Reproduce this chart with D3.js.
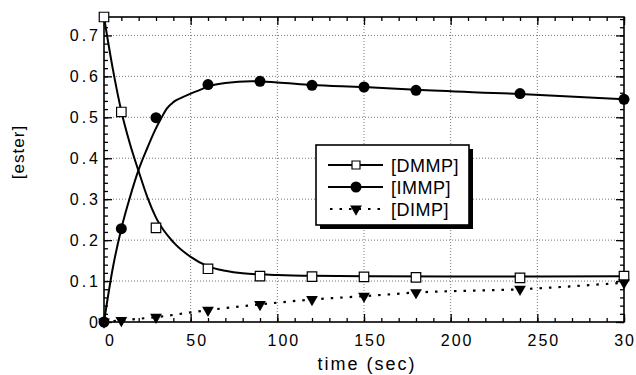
<!DOCTYPE html>
<html>
<head>
<meta charset="utf-8">
<script src="https://cdn.jsdelivr.net/npm/d3@7"></script>
<style>
  body { margin: 0; background: #fff; }
  svg { font-family: "Liberation Sans", Arial, Helvetica, sans-serif; }
</style>
</head>
<body>
<script>
// measured points
var times = [0, 10, 30, 60, 90, 120, 150, 180, 240, 300];
var dmmp = [0.745, 0.513, 0.230, 0.130, 0.112, 0.111, 0.110, 0.109, 0.108, 0.112];
var immp = [0, 0.228, 0.499, 0.580, 0.588, 0.578, 0.574, 0.566, 0.558, 0.544];
var dimp = [0, 0.004, 0.012, 0.029, 0.043, 0.055, 0.063, 0.072, 0.080, 0.096];

// fitted curves
var dmmpFitT = [0, 5, 10, 15, 20, 25, 30, 40, 50, 60, 70, 80, 100, 120, 150, 200, 250, 300];
var dmmpFitV = [0.745, 0.62, 0.515, 0.435, 0.368, 0.305, 0.255, 0.195, 0.159, 0.136, 0.125, 0.119, 0.115, 0.113, 0.112, 0.111, 0.111, 0.112];
var immpFitT = [0, 5, 10, 15, 20, 25, 29.4, 33.3, 36.2, 40, 44.8, 50, 55.4, 60, 70, 85, 100, 120, 150, 180, 240, 300];
var immpFitV = [0, 0.13, 0.228, 0.305, 0.372, 0.425, 0.468, 0.500, 0.521, 0.537, 0.548, 0.558, 0.567, 0.575, 0.584, 0.588, 0.585, 0.579, 0.574, 0.567, 0.557, 0.544];

var xTicks = [0, 50, 100, 150, 200, 250, 300];
var yTicks = [0, 0.1, 0.2, 0.3, 0.4, 0.5, 0.6, 0.7];
var yTickLabels = ["0", "0.1", "0.2", "0.3", "0.4", "0.5", "0.6", "0.7"];
var legendNames = ["[DMMP]", "[IMMP]", "[DIMP]"];

var margin = {top: 17, right: 12, bottom: 53, left: 104},
    width = 636 - margin.left - margin.right,
    height = 375 - margin.top - margin.bottom;

var x = d3.scaleLinear().domain([0, 300]).range([0, width]);
var y = d3.scaleLinear().domain([0, 0.745]).range([height, 0]);

var svg = d3.select("body").append("svg")
    .attr("width", 636)
    .attr("height", 375)
  .append("g")
    .attr("transform", "translate(" + margin.left + "," + margin.top + ")");

// grid
svg.selectAll(".vgrid").data(xTicks.slice(1, -1)).enter().append("line")
  .attr("x1", d => x(d)).attr("x2", d => x(d))
  .attr("y1", 0).attr("y2", height)
  .style("stroke", "#777").style("stroke-width", 1).style("stroke-dasharray", "1,2");
svg.selectAll(".hgrid").data(yTicks.slice(1)).enter().append("line")
  .attr("x1", 0).attr("x2", width)
  .attr("y1", d => y(d)).attr("y2", d => y(d))
  .style("stroke", "#777").style("stroke-width", 1).style("stroke-dasharray", "1,2");

// axes: minor + major ticks on all sides, pointing inward
var xMinor = d3.range(0, 301, 10);
var yMinor = d3.range(0, 0.741, 0.02);

function styleAxis(g) {
  g.select(".domain").remove();
  g.selectAll("line").style("stroke", "#000").style("stroke-width", 1.3);
  g.selectAll("text").style("font-size", "16px").style("fill", "#000").style("letter-spacing", "2px");
}

svg.append("g").attr("transform", "translate(0," + height + ")")
  .call(d3.axisBottom(x).tickValues(xMinor).tickSize(-4).tickFormat(""))
  .call(styleAxis);
svg.append("g").attr("transform", "translate(0," + height + ")")
  .call(d3.axisBottom(x).tickValues(xTicks).tickSize(-8).tickPadding(13).tickFormat(d3.format("d")))
  .call(styleAxis)
  .selectAll("text").attr("dx", 6);
svg.append("g")
  .call(d3.axisTop(x).tickValues(xMinor).tickSize(-4).tickFormat(""))
  .call(styleAxis);
svg.append("g")
  .call(d3.axisTop(x).tickValues(xTicks).tickSize(-8).tickFormat(""))
  .call(styleAxis);

svg.append("g")
  .call(d3.axisLeft(y).tickValues(yMinor).tickSize(-4).tickFormat(""))
  .call(styleAxis);
svg.append("g")
  .call(d3.axisLeft(y).tickValues(yTicks).tickSize(-8).tickPadding(3)
    .tickFormat((d, i) => yTickLabels[i]))
  .call(styleAxis)
  .selectAll("text").style("letter-spacing", "3px");
svg.append("g").attr("transform", "translate(" + width + ",0)")
  .call(d3.axisRight(y).tickValues(yMinor).tickSize(-4).tickFormat(""))
  .call(styleAxis);
svg.append("g").attr("transform", "translate(" + width + ",0)")
  .call(d3.axisRight(y).tickValues(yTicks).tickSize(-8).tickFormat(""))
  .call(styleAxis);

// frame
svg.append("rect")
  .attr("width", width).attr("height", height)
  .style("fill", "none").style("stroke", "#000").style("stroke-width", 1.6);

// curves
var fitLine = d3.line()
  .x(d => x(d[0]))
  .y(d => y(d[1]))
  .curve(d3.curveMonotoneX);

svg.append("path")
  .attr("d", fitLine(dmmpFitT.map((t, i) => [t, dmmpFitV[i]])))
  .style("fill", "none").style("stroke", "#000").style("stroke-width", 2);
svg.append("path")
  .attr("d", fitLine(immpFitT.map((t, i) => [t, immpFitV[i]])))
  .style("fill", "none").style("stroke", "#000").style("stroke-width", 2);
svg.append("path")
  .attr("d", fitLine(times.map((t, i) => [t, dimp[i]])))
  .style("fill", "none").style("stroke", "#000").style("stroke-width", 2.2)
  .style("stroke-dasharray", "2.5,7");

// markers
var sq = d3.symbol().type(d3.symbolSquare).size(90);
var circ = d3.symbol().type(d3.symbolCircle).size(95);
var tri = d3.symbol().type(d3.symbolTriangle).size(60);

svg.selectAll(".dmmp").data(times).enter().append("path")
  .attr("d", sq)
  .attr("transform", (d, i) => "translate(" + x(d) + "," + y(dmmp[i]) + ")")
  .style("fill", "#fff").style("stroke", "#000").style("stroke-width", 1.2);
svg.selectAll(".immp").data(times).enter().append("path")
  .attr("d", circ)
  .attr("transform", (d, i) => "translate(" + x(d) + "," + y(immp[i]) + ")")
  .style("fill", "#000");
svg.selectAll(".dimp").data(times).enter().append("path")
  .attr("d", tri)
  .attr("transform", (d, i) => "translate(" + x(d) + "," + y(dimp[i]) + ") rotate(180)")
  .style("fill", "#000");

// axis titles
svg.append("text")
  .attr("text-anchor", "middle")
  .attr("transform", "translate(" + (-80) + "," + 135 + ")rotate(-90)")
  .style("font-size", "17px")
  .style("letter-spacing", "1px")
  .text("[ester]");
svg.append("text")
  .attr("x", x(150) + 3)
  .attr("y", height + 48)
  .attr("text-anchor", "middle")
  .style("font-size", "18px")
  .style("letter-spacing", "2px")
  .text("time (sec)");

// legend
var lg = svg.append("g").attr("transform", "translate(" + (316 - margin.left) + "," + (145 - margin.top) + ")");
var lw = 153, lh = 80;
lg.append("rect").attr("x", 4).attr("y", 4).attr("width", lw).attr("height", lh).style("fill", "#000");
lg.append("rect").attr("width", lw).attr("height", lh)
  .style("fill", "#fff").style("stroke", "#000").style("stroke-width", 1.6);

var rowY = [20, 42, 64];
var legendMarks = [sq, circ, tri];
legendNames.forEach(function(name, i) {
  var row = lg.append("g").attr("transform", "translate(0," + rowY[i] + ")");
  var ln = row.append("line").attr("x1", 12).attr("x2", 67).attr("y1", 0).attr("y2", 0)
    .style("stroke", "#000").style("stroke-width", i === 2 ? 2.2 : 2);
  if (i === 2) ln.style("stroke-dasharray", "2.5,7").attr("x1", 14);
  var m = row.append("path")
    .attr("d", i === 0 ? d3.symbol().type(d3.symbolSquare).size(64) : legendMarks[i])
    .attr("transform", "translate(40,0)" + (i === 2 ? " rotate(180)" : ""));
  if (i === 0) m.style("fill", "#fff").style("stroke", "#000").style("stroke-width", 1.2);
  else m.style("fill", "#000");
  row.append("text").attr("x", 75).attr("y", 6.5)
    .style("font-size", "18px").style("letter-spacing", "0.5px")
    .text(name);
});
</script>
</body>
</html>
